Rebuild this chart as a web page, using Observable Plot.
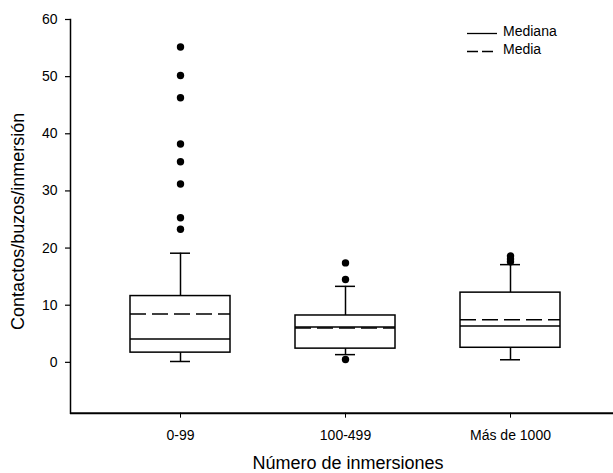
<!DOCTYPE html>
<html>
<head>
<meta charset="utf-8">
<script src="https://cdn.jsdelivr.net/npm/d3@7"></script>
<script src="https://cdn.jsdelivr.net/npm/@observablehq/plot@0.6"></script>
<style>
  html, body { margin: 0; padding: 0; background: white; }
  #wrap { position: relative; width: 613px; height: 473px; font-family: Arial, "Liberation Sans", sans-serif; }
  #legend { position: absolute; left: 0; top: 0; width: 613px; height: 80px; pointer-events: none; }
</style>
</head>
<body>
<div id="wrap"></div>
<script>
// ---- data ----
const groups = ["0-99", "100-499", "Más de 1000"];
const q1 = [1.7, 2.4, 2.55];
const q3 = [11.6, 8.2, 12.2];
const median = [4.1, 6.2, 6.35];
const mean = [8.45, 6.0, 7.45];
const whiskerLow = [0.15, 1.35, 0.45];
const whiskerHigh = [19.1, 13.3, 17.1];
const outliers = [
  [55.2, 50.2, 46.3, 38.2, 35.1, 31.2, 25.3, 23.3],
  [17.4, 14.5, 0.5],
  [18.6, 18.1, 17.6]
];
const yTicks = [0, 10, 20, 30, 40, 50, 60];
const yTitle = "Contactos/buzos/inmersión";
const xTitle = "Número de inmersiones";
const legendLabels = ["Mediana", "Media"];

// ---- tables built from the arrays ----
const boxes = groups.map((g, i) => ({
  group: g, q1: q1[i], q3: q3[i], median: median[i], mean: mean[i],
  lo: whiskerLow[i], hi: whiskerHigh[i]
}));
const points = groups.flatMap((g, i) => outliers[i].map(v => ({group: g, value: v})));

const font = "Arial, 'Liberation Sans', sans-serif";

const chart = Plot.plot({
  width: 613,
  height: 473,
  marginLeft: 70,
  marginRight: 0,
  marginTop: 19,
  marginBottom: 60.3,
  style: {fontFamily: font, fontSize: "14px", color: "black", background: "white"},
  x: {type: "band", domain: groups, range: [63.75, 625.75], padding: 0.396},
  y: {domain: [-8.9, 60]},
  marks: [
    Plot.ruleY([-8.9], {stroke: "black", strokeWidth: 2}),
    Plot.frame({anchor: "left", stroke: "black", strokeWidth: 1.5}),
    Plot.axisY({ticks: yTicks, tickSize: 5, tickPadding: 8, label: null, fontSize: 14, strokeWidth: 1.2}),
    Plot.axisX({tickSize: 5, tickPadding: 12, label: null, fontSize: 14}),
    // whiskers
    Plot.ruleX(boxes, {x: "group", y1: "lo", y2: "q1", stroke: "black", strokeWidth: 1.5}),
    Plot.ruleX(boxes, {x: "group", y1: "q3", y2: "hi", stroke: "black", strokeWidth: 1.5}),
    Plot.tickY(boxes, {x: "group", y: "lo", inset: 40, stroke: "black", strokeWidth: 1.5}),
    Plot.tickY(boxes, {x: "group", y: "hi", inset: 40, stroke: "black", strokeWidth: 1.5}),
    // boxes
    Plot.barY(boxes, {x: "group", y1: "q1", y2: "q3", fill: "white", stroke: "black", strokeWidth: 1.5}),
    // median and mean
    Plot.tickY(boxes, {x: "group", y: "median", stroke: "black", strokeWidth: 1.5}),
    Plot.tickY(boxes, {x: "group", y: "mean", stroke: "black", strokeWidth: 1.5, strokeDasharray: "16,6"}),
    // outliers
    Plot.dot(points, {x: "group", y: "value", r: 3.7, fill: "black", stroke: "none"}),
    // titles
    Plot.text([yTitle], {text: d => d, frameAnchor: "left", textAnchor: "middle", lineAnchor: "middle", dx: -52, dy: 5, rotate: -90, fontSize: 18, fill: "black"}),
    Plot.text([xTitle], {text: d => d, frameAnchor: "bottom", textAnchor: "middle", lineAnchor: "middle", dx: 6, dy: 50, fontSize: 18, fill: "black"})
  ]
});

const wrap = document.getElementById("wrap");
wrap.appendChild(chart);

// legend overlay
const ns = "http://www.w3.org/2000/svg";
const leg = document.createElementNS(ns, "svg");
leg.setAttribute("id", "legend");
leg.setAttribute("width", 613);
leg.setAttribute("height", 80);
const items = [
  {label: legendLabels[0], dash: null, y: 31},
  {label: legendLabels[1], dash: "11,4", y: 49}
];
items.forEach(it => {
  const l = document.createElementNS(ns, "line");
  l.setAttribute("x1", 467); l.setAttribute("x2", 497);
  l.setAttribute("y1", it.y + 2.5); l.setAttribute("y2", it.y + 2.5);
  l.setAttribute("stroke", "black"); l.setAttribute("stroke-width", 1.3);
  if (it.dash) l.setAttribute("stroke-dasharray", it.dash);
  leg.appendChild(l);
  const t = document.createElementNS(ns, "text");
  t.setAttribute("x", 503); t.setAttribute("y", it.y);
  t.setAttribute("dominant-baseline", "central");
  t.setAttribute("font-family", font);
  t.setAttribute("font-size", 14);
  t.textContent = it.label;
  leg.appendChild(t);
});
wrap.appendChild(leg);
</script>
</body>
</html>
